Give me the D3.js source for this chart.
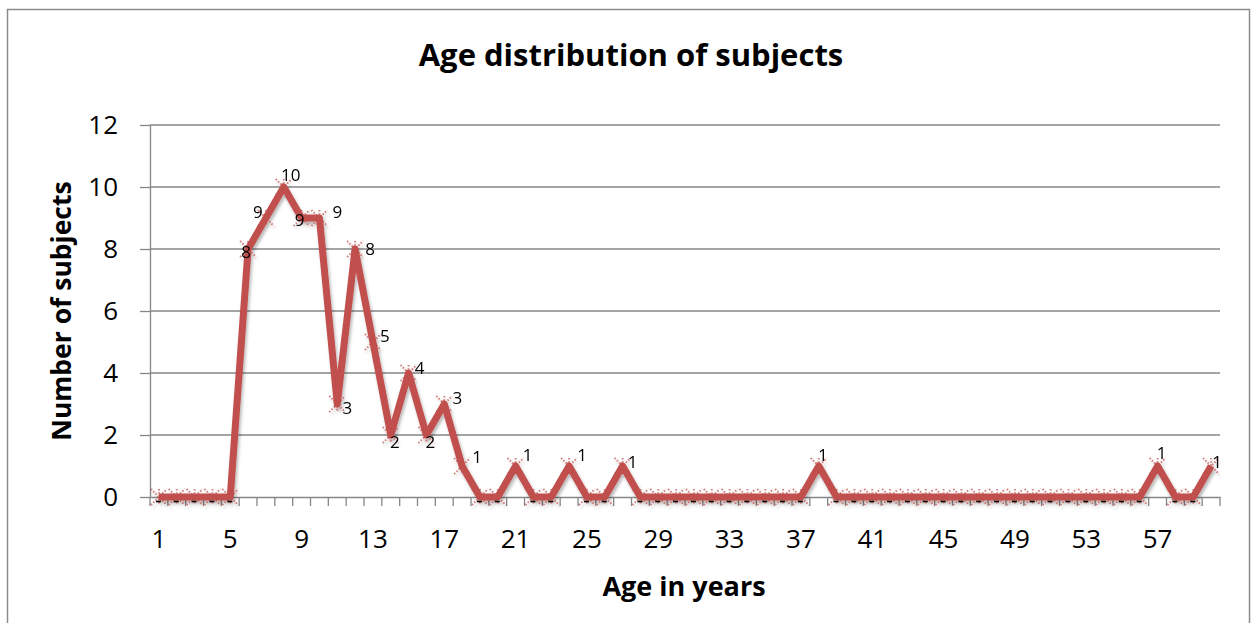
<!DOCTYPE html>
<html><head><meta charset="utf-8">
<script src="https://cdn.jsdelivr.net/npm/d3@7"></script>
<style>
html,body{margin:0;padding:0;background:#fff;}
svg{display:block;}
text{font-family:"Open Sans","Noto Sans",sans-serif;}
</style></head>
<body>
<svg id="chart" width="1255" height="623"></svg>
<script>
// ---- data ----
const ages = d3.range(1, 61).map(String);
const counts = [0,0,0,0,0,8,9,10,9,9,3,8,5,2,4,2,3,1,0,0,1,0,0,1,0,0,1,0,0,0,
                0,0,0,0,0,0,0,1,0,0,0,0,0,0,0,0,0,0,0,0,0,0,0,0,0,0,1,0,0,1];
const xTickLabels = ["1","5","9","13","17","21","25","29","33","37","41","45","49","53","57"];
const yTicks = [0,2,4,6,8,10,12];
const title = "Age distribution of subjects";
const xTitle = "Age in years";
const yTitle = "Number of subjects";
// label nudges (layout only): [age, dx, dy] of label centre from point
const labelNudge = [["6",-2,3],["7",-8,-6],["8",7,-12],["9",-2,2],["10",18,-6],["11",10,4],
  ["12",15,0],["13",12,-6],["14",4,7],["15",11,-5],["16",4,7],["17",13,-6],["18",15,-9],
  ["21",12,-11],["24",13,-11],["27",10,-4],["38",4,-11],["57",4,-13],["60",6,-4]];

const data = ages.map((a, i) => ({age: a, v: counts[i]}));
const nudge = new Map(labelNudge.map(d => [d[0], [d[1], d[2]]]));

const svg = d3.select("#chart");
const L = 150, R = 1220, T = 125, B = 497;
const x = d3.scaleBand().domain(ages).range([L, R]).padding(0);
const y = d3.scaleLinear().domain([0, 12]).range([B, T]);
const cx = a => x(a) + x.bandwidth() / 2;
const grid = "#868686";

// shadow filter
const defs = svg.append("defs");
const f = defs.append("filter").attr("id", "sh").attr("x", "-5%").attr("y", "-5%").attr("width", "110%").attr("height", "120%");
f.append("feDropShadow").attr("dx", 1.5).attr("dy", 3).attr("stdDeviation", 1.6)
  .attr("flood-color", "#000").attr("flood-opacity", 0.28);

// outer border
svg.append("rect").attr("x", 7.5).attr("y", 9.5).attr("width", 1242).attr("height", 640)
  .attr("fill", "none").attr("stroke", "#8c8c8c").attr("stroke-width", 1.5);

// title
svg.append("text").attr("x", 631).attr("y", 66).attr("text-anchor", "middle")
  .attr("font-size", 31).attr("font-weight", "bold").attr("fill", "#000").text(title);

// gridlines
svg.append("g").selectAll("line").data(yTicks.filter(t => t > 0)).join("line")
  .attr("x1", L).attr("x2", R).attr("y1", d => y(d)).attr("y2", d => y(d))
  .attr("stroke", grid).attr("stroke-width", 1.3);

// y axis
const ya = svg.append("g").attr("transform", `translate(${L},0)`)
  .call(d3.axisLeft(y).tickValues(yTicks).tickSizeInner(10).tickSizeOuter(0).tickPadding(22));
ya.select(".domain").attr("stroke", grid).attr("stroke-width", 1.3);
ya.selectAll(".tick line").attr("stroke", grid).attr("stroke-width", 1.3);
ya.selectAll(".tick text").attr("font-size", 26).attr("fill", "#000")
  .attr("font-family", '"Open Sans","Noto Sans",sans-serif');

// x axis
const xa = svg.append("g").attr("transform", `translate(0,${B})`)
  .call(d3.axisBottom(x).tickValues(xTickLabels).tickSize(0).tickPadding(33));
xa.select(".domain").attr("stroke", grid).attr("stroke-width", 1.3);
xa.selectAll(".tick text").attr("font-size", 26).attr("fill", "#000")
  .attr("font-family", '"Open Sans","Noto Sans",sans-serif');
// category boundary tick marks
const bounds = ages.map(a => x(a)).concat([x(ages[ages.length - 1]) + x.bandwidth()]);
xa.append("g").selectAll("line").data(bounds).join("line")
  .attr("x1", d => d).attr("x2", d => d).attr("y1", 0).attr("y2", 9)
  .attr("stroke", grid).attr("stroke-width", 1.3);

// axis titles
svg.append("text").attr("x", 684).attr("y", 596).attr("text-anchor", "middle")
  .attr("font-size", 27).attr("font-weight", "bold").attr("fill", "#000").text(xTitle);
svg.append("text").attr("transform", `translate(71,311) rotate(-90)`).attr("text-anchor", "middle")
  .attr("font-size", 26.5).attr("font-weight", "bold").attr("fill", "#000").text(yTitle);

// series
const red = "#c0504d";
const g = svg.append("g").attr("filter", "url(#sh)");
g.append("path").datum(data)
  .attr("d", d3.line().x(d => cx(d.age)).y(d => y(d.v)))
  .attr("fill", "none").attr("stroke", red).attr("stroke-width", 7).attr("stroke-linejoin", "round");

// markers (star: x + vertical)
const ms = 8;
const mk = g.selectAll("g.m").data(data).join("g").attr("class", "m")
  .attr("transform", d => `translate(${cx(d.age)},${y(d.v)})`);
mk.append("path")
  .attr("d", `M${-ms},${-ms}L${ms},${ms}M${-ms},${ms}L${ms},${-ms}M0,${-ms}L0,${ms}`)
  .attr("fill", "none").attr("stroke", "#c0504d").attr("stroke-opacity", 0.7)
  .attr("stroke-width", 2).attr("stroke-dasharray", "1.6,1.6");

// data labels
const lab = svg.append("g");
lab.selectAll("text").data(data.filter(d => d.v > 0)).join("text")
  .attr("x", d => cx(d.age) + (nudge.get(d.age) || [10, 0])[0])
  .attr("y", d => y(d.v) + (nudge.get(d.age) || [10, 0])[1])
  .attr("dy", "0.36em").attr("text-anchor", "middle")
  .attr("font-size", 17).attr("fill", "#000").text(d => d.v);
// zero labels shown as "-"
lab.selectAll("line").data(data.filter(d => d.v === 0)).join("line")
  .attr("x1", d => cx(d.age) - 3).attr("x2", d => cx(d.age) + 2)
  .attr("y1", d => y(d.v) + 4.5).attr("y2", d => y(d.v) + 4.5)
  .attr("stroke", "#000").attr("stroke-width", 1.6);
</script>
</body></html>
